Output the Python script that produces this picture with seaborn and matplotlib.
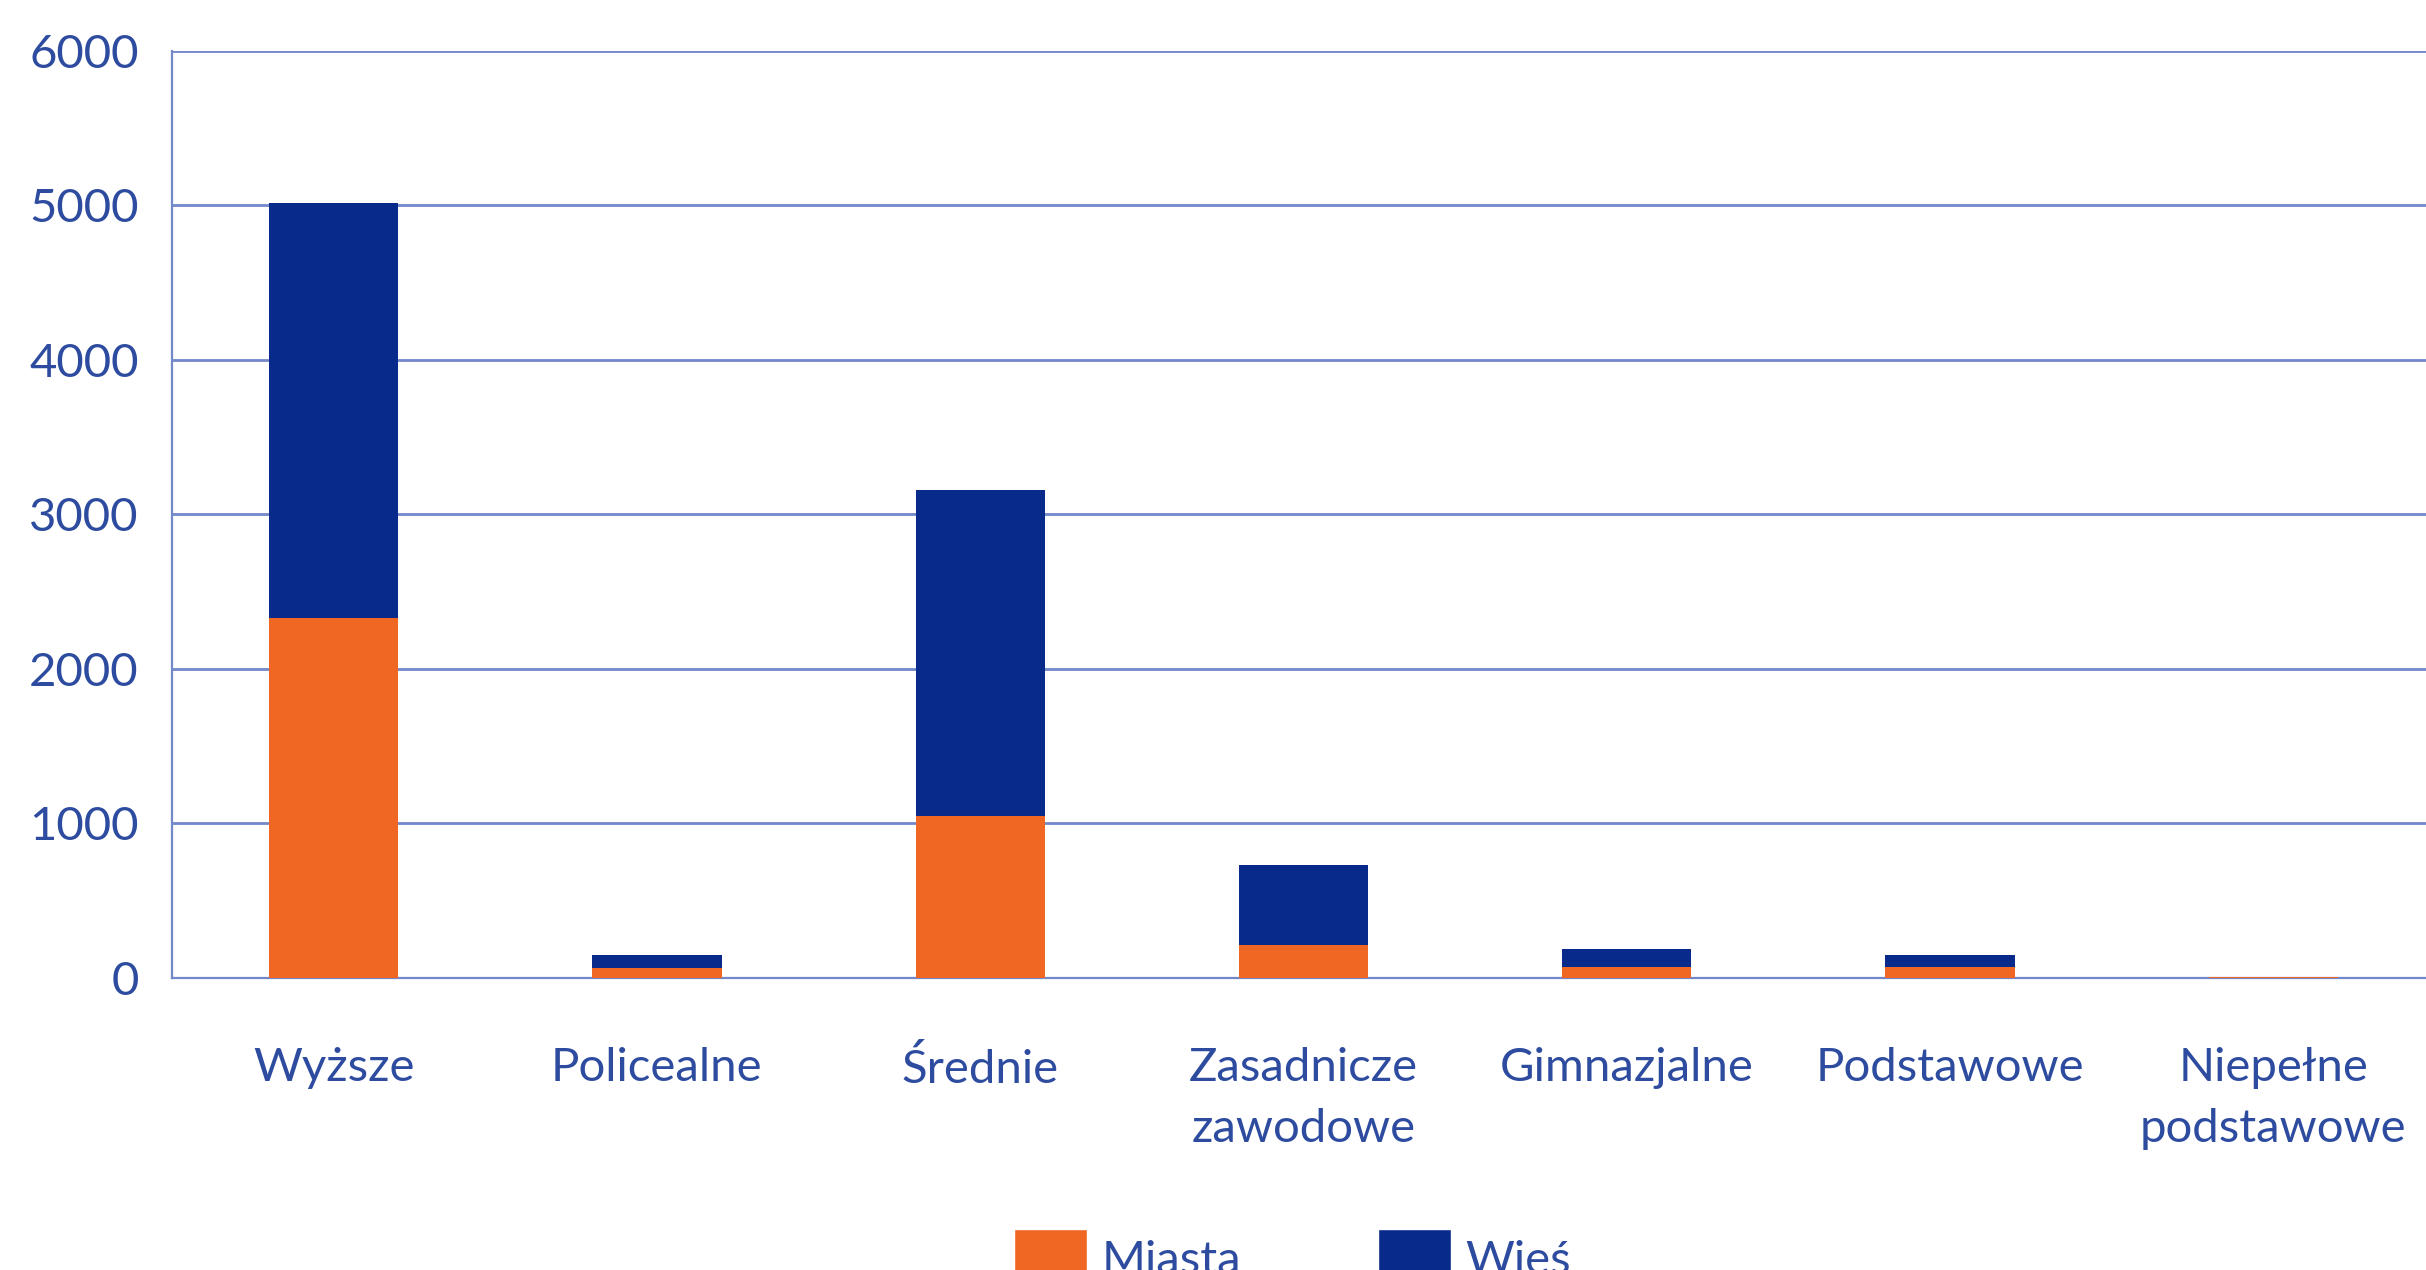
import numpy as np
import matplotlib
matplotlib.use("Agg")
import matplotlib.pyplot as plt
import seaborn as sns
import pandas as pd
from matplotlib.patches import Patch
from matplotlib.ticker import FixedLocator

# Daten
kategorien = ["Wyższe", "Policealne", "Średnie", "Zasadnicze\nzawodowe",
              "Gimnazjalne", "Podstawowe", "Niepełne\npodstawowe"]
miasta = [2326, 65, 1044, 210, 70, 70, 3]
wies = [2692, 80, 2115, 521, 115, 80, 3]
y_ticks = [0, 1000, 2000, 3000, 4000, 5000, 6000]

kolor_miasta = "#F06623"
kolor_wies = "#072A8B"
kolor_tekst = "#2D4B9F"
kolor_siatka = "#7388CA"

df = pd.DataFrame({"kat": kategorien, "Miasta": miasta, "Wieś": wies})
df["razem"] = df["Miasta"] + df["Wieś"]

sns.set_style("white")
plt.rcParams["font.family"] = ["Lato", "DejaVu Sans"]

fig = plt.figure(figsize=(24.26, 12.70), dpi=100)
ax = fig.add_axes([172 / 2426, 1 - 977.7 / 1270, (2435 - 172) / 2426, (977.7 - 51) / 1270])

# gestapelte Balken: erst Summe (Wieś oben), dann Miasta drüber
sns.barplot(data=df, x="kat", y="razem", color=kolor_wies, width=0.4,
            saturation=1, linewidth=0, ax=ax, zorder=3)
sns.barplot(data=df, x="kat", y="Miasta", color=kolor_miasta, width=0.4,
            saturation=1, linewidth=0, ax=ax, zorder=4)

ax.set_xlim(-0.5, len(kategorien) - 0.5)
ax.set_ylim(0, 6000)
ax.set_yticks(y_ticks)
ax.set_yticklabels([str(v) for v in y_ticks])
ax.set_xlabel("")
ax.set_ylabel("")

# Gitter
ax.grid(axis="y", color=kolor_siatka, linewidth=2, zorder=1)
ax.grid(axis="x", visible=False)
ax.set_axisbelow(True)

for s in ["top", "right"]:
    ax.spines[s].set_visible(False)
for s in ["left", "bottom"]:
    ax.spines[s].set_color(kolor_siatka)
    ax.spines[s].set_linewidth(1.6)

# Ticks
ax.xaxis.set_minor_locator(FixedLocator(np.arange(-0.5, len(kategorien), 1.0)))
ax.tick_params(axis="x", which="major", length=0, pad=50, labelsize=34,
               labelcolor=kolor_tekst)
ax.tick_params(axis="x", which="minor", length=15, width=1.3,
               color=kolor_siatka, direction="out")
ax.tick_params(axis="y", length=10, width=1.3, color=kolor_siatka,
               direction="out", pad=14, labelsize=34, labelcolor=kolor_tekst)
for lab in ax.get_xticklabels():
    lab.set_linespacing(1.55)

# Legende
handles = [Patch(facecolor=kolor_miasta, label="Miasta"),
           Patch(facecolor=kolor_wies, label="Wieś")]
fig.legend(handles=handles, loc="upper left", bbox_to_anchor=(1014 / 2426, 1 - 1229 / 1270),
           ncol=2, frameon=False, fontsize=34, labelcolor=kolor_tekst,
           handlelength=1.55, handleheight=1.55, handletextpad=0.3,
           columnspacing=2.9, borderpad=0, borderaxespad=0)

fig.savefig("out.png", dpi=100)
